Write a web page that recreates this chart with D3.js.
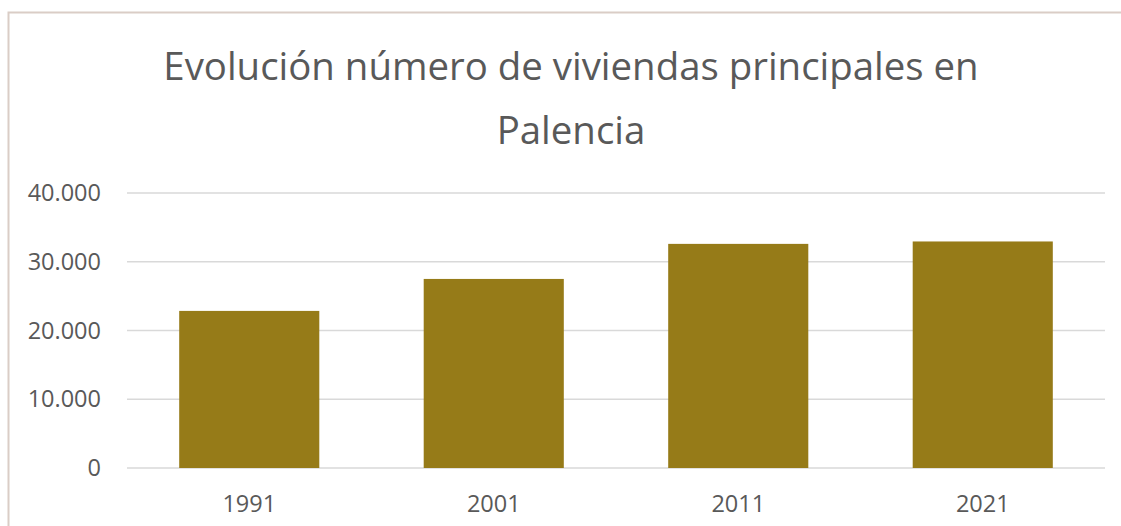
<!DOCTYPE html>
<html>
<head>
<meta charset="utf-8">
<script src="https://cdn.jsdelivr.net/npm/d3@7"></script>
<style>
  body { margin: 0; background: #fff; }
</style>
</head>
<body>
<script>
var years = ["1991", "2001", "2011", "2021"];
var viviendas = [22850, 27500, 32600, 32950];
var yTicks = [0, 10000, 20000, 30000, 40000];

var width = 1121, height = 526;
var margin = {top: 193, right: 16, bottom: 58, left: 127};

var svg = d3.select("body").append("svg")
    .attr("width", width)
    .attr("height", height);

// chart frame
svg.append("rect")
    .attr("x", 8.5).attr("y", 12.5)
    .attr("width", width + 20).attr("height", height + 20)
    .attr("fill", "#fff")
    .attr("stroke", "#dacdc6")
    .attr("stroke-width", 2);

var chartWidth = width - margin.left - margin.right;
var chartHeight = height - margin.top - margin.bottom;

var g = svg.append("g")
    .attr("transform", `translate(${margin.left},${margin.top})`);

var x = d3.scaleBand()
    .domain(years)
    .range([0, chartWidth])
    .paddingInner(0.427)
    .paddingOuter(0.2135);

var y = d3.scaleLinear()
    .domain([0, 40000])
    .range([chartHeight, 0]);

var fmt = d3.formatLocale({decimal: ",", thousands: ".", grouping: [3], currency: ["", "€"]}).format(",d");

// gridlines
g.selectAll(".grid")
    .data(yTicks)
    .enter().append("line")
    .attr("class", "grid")
    .attr("x1", 0).attr("x2", chartWidth)
    .attr("y1", d => y(d)).attr("y2", d => y(d))
    .attr("stroke", "#d9d9d9")
    .attr("stroke-width", 1.5);

// y labels
g.selectAll(".ylab")
    .data(yTicks)
    .enter().append("text")
    .attr("class", "ylab")
    .attr("x", -26)
    .attr("y", d => y(d))
    .attr("dy", "0.35em")
    .attr("text-anchor", "end")
    .attr("font-family", "'Open Sans', sans-serif")
    .attr("font-size", 23.5)
    .attr("fill", "#595959")
    .text(d => fmt(d));

// bars
g.selectAll(".bar")
    .data(years)
    .enter().append("rect")
    .attr("class", "bar")
    .attr("x", d => x(d))
    .attr("width", x.bandwidth())
    .attr("y", (d, i) => y(viviendas[i]))
    .attr("height", (d, i) => chartHeight - y(viviendas[i]))
    .attr("fill", "#967b18");

// x labels
g.selectAll(".xlab")
    .data(years)
    .enter().append("text")
    .attr("class", "xlab")
    .attr("x", d => x(d) + x.bandwidth() / 2)
    .attr("y", chartHeight + 44)
    .attr("text-anchor", "middle")
    .attr("font-family", "'Open Sans', sans-serif")
    .attr("font-size", 23.5)
    .attr("fill", "#595959")
    .text(d => d);

// title
var title = svg.append("text")
    .attr("text-anchor", "middle")
    .attr("font-family", "'Open Sans', sans-serif")
    .attr("font-size", 38.4)
    .attr("fill", "#595959");
title.append("tspan").attr("x", 571).attr("y", 80).text("Evolución número de viviendas principales en");
title.append("tspan").attr("x", 571).attr("y", 144).text("Palencia");
</script>
</body>
</html>
